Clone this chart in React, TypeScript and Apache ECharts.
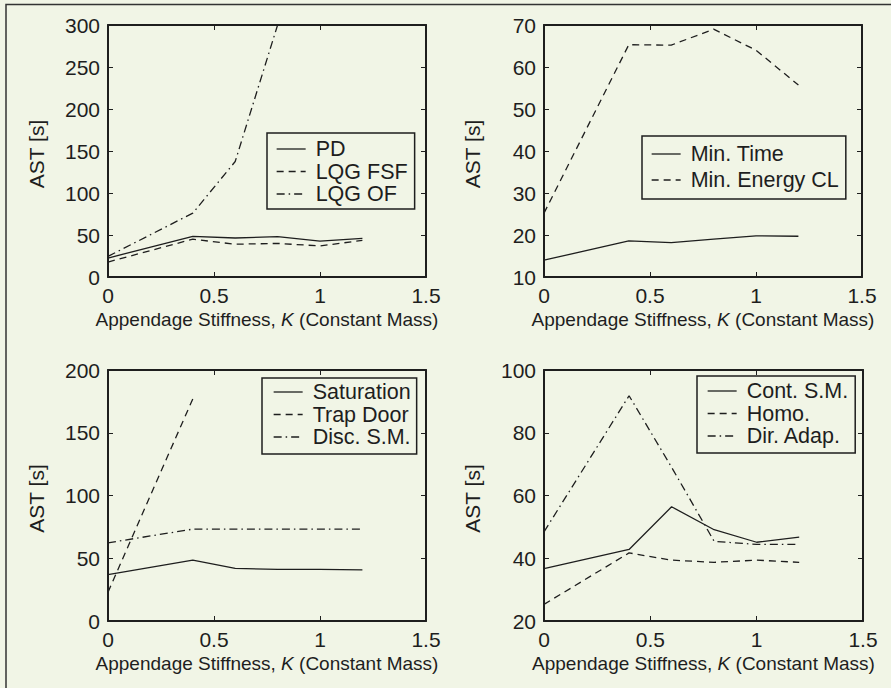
import React, { useEffect, useRef } from "react";
import * as echarts from "echarts";

const kValues = [0, 0.4, 0.6, 0.8, 1.0, 1.2];
const xTicks = [0, 0.5, 1, 1.5];

// Panel 1
const pd = [22.6, 48.4, 46.4, 48, 42.8, 46];
const lqgFsf = [17.8, 45, 39, 40, 37, 43.6];
const lqgOfK = [0, 0.4, 0.6, 0.8];
const lqgOf = [24.6, 76, 137.5, 300];
// Panel 2
const minTime = [14, 18.6, 18.2, 19, 19.8, 19.7];
const minEnergyCl = [25.2, 65.3, 65.2, 69, 64, 55.7];
// Panel 3
const saturation = [36.9, 48.5, 41.9, 41.1, 41.1, 40.8];
const trapDoorK = [0, 0.4];
const trapDoor = [23, 177];
const discSm = [62.3, 73.2, 73.2, 73.2, 73.2, 73.2];
// Panel 4
const contSm = [36.7, 42.8, 56.4, 49.1, 45.1, 46.7];
const homo = [25.3, 41.7, 39.4, 38.7, 39.4, 38.7];
const dirAdap = [48.4, 91.8, 69, 45.4, 44.4, 44.4];

const yRanges = [
  { min: 0, max: 300, interval: 50 },
  { min: 10, max: 70, interval: 10 },
  { min: 0, max: 200, interval: 50 },
  { min: 20, max: 100, interval: 20 },
];

const xAxisTitle = "Appendage Stiffness, {i|K} (Constant Mass)";
const yAxisTitle = "AST [s]";

const BG = "#f1f5e6";
const INK = "#1e1e1e";
const FONT = "'Liberation Sans', Arial, Helvetica, sans-serif";

const SOLID = "solid";
const DASH = [7, 5];
const DASHDOT = [8, 4, 1.5, 4];

const pairs = (xs: number[], ys: number[]) => xs.map((x, i) => [x, ys[i]]);

export default function App() {
  const ref = useRef<HTMLDivElement>(null);
  useEffect(() => {
    if (!ref.current) return;
    const chart = echarts.init(ref.current, null, { renderer: "svg" });

    const grids = [
      { left: 108, top: 25, width: 318, height: 252 },
      { left: 544, top: 25, width: 318, height: 252 },
      { left: 108, top: 370, width: 318, height: 251 },
      { left: 544, top: 370, width: 319, height: 251 },
    ];

    const axisLine = { show: true, onZero: false, lineStyle: { color: INK, width: 2 } };
    const axisTick = { show: true, inside: true, length: 5, lineStyle: { color: INK, width: 1 } };

    const xAxes: any[] = [];
    const yAxes: any[] = [];
    grids.forEach((_, i) => {
      xAxes.push({
        type: "value",
        gridIndex: i,
        position: "bottom",
        min: xTicks[0],
        max: xTicks[xTicks.length - 1],
        interval: 0.5,
        axisLine,
        axisTick,
        splitLine: { show: false },
        axisLabel: { show: true, color: INK, fontSize: 21, fontFamily: FONT, margin: 8 },
        name: xAxisTitle,
        nameLocation: "middle",
        nameGap: 33,
        nameTextStyle: {
          color: INK,
          fontSize: 19,
          fontFamily: FONT,
          rich: {
            i: { fontStyle: "italic", fontSize: 19, fontFamily: FONT, color: INK },
          },
        },
      });
      xAxes.push({
        type: "value",
        gridIndex: i,
        position: "top",
        min: xTicks[0],
        max: xTicks[xTicks.length - 1],
        interval: 0.5,
        axisLine,
        axisTick,
        splitLine: { show: false },
        axisLabel: { show: false },
      });
      yAxes.push({
        type: "value",
        gridIndex: i,
        position: "left",
        ...yRanges[i],
        axisLine,
        axisTick,
        splitLine: { show: false },
        axisLabel: { show: true, color: INK, fontSize: 21, fontFamily: FONT, margin: 8 },
      });
      yAxes.push({
        type: "value",
        gridIndex: i,
        position: "right",
        ...yRanges[i],
        axisLine,
        axisTick,
        splitLine: { show: false },
        axisLabel: { show: false },
      });
    });

    const line = (name: string, gi: number, data: number[][], type: any) => ({
      name,
      type: "line",
      xAxisIndex: gi * 2,
      yAxisIndex: gi * 2,
      data,
      symbol: "none",
      showSymbol: false,
      clip: true,
      lineStyle: { color: INK, width: 1.3, type },
      itemStyle: { color: INK },
      emphasis: { disabled: true },
    });

    const series = [
      line("PD", 0, pairs(kValues, pd), SOLID),
      line("LQG FSF", 0, pairs(kValues, lqgFsf), DASH),
      line("LQG OF", 0, pairs(lqgOfK, lqgOf), DASHDOT),
      line("Min. Time", 1, pairs(kValues, minTime), SOLID),
      line("Min. Energy CL", 1, pairs(kValues, minEnergyCl), DASH),
      line("Saturation", 2, pairs(kValues, saturation), SOLID),
      line("Trap Door", 2, pairs(trapDoorK, trapDoor), DASH),
      line("Disc. S.M.", 2, pairs(kValues, discSm), DASHDOT),
      line("Cont. S.M.", 3, pairs(kValues, contSm), SOLID),
      line("Homo.", 3, pairs(kValues, homo), DASH),
      line("Dir. Adap.", 3, pairs(kValues, dirAdap), DASHDOT),
    ];

    const legend = (data: string[], left: number, top: number, gap: number, padding: number[]) => ({
      show: true,
      data,
      orient: "vertical",
      left,
      top,
      itemGap: gap,
      itemWidth: 29,
      itemHeight: 14,
      padding,
      borderColor: INK,
      borderWidth: 1.5,
      borderRadius: 0,
      backgroundColor: BG,
      selectedMode: false,
      itemStyle: { color: "transparent", borderWidth: 0, opacity: 0 },
      lineStyle: { width: 1.3 },
      textStyle: {
        color: INK,
        fontSize: 21.5,
        fontFamily: FONT,
        lineHeight: 21,
        padding: [0, 0, 0, 5],
      },
    });

    const yTitles = grids.map((g) => ({
      type: "text",
      silent: true,
      x: g.left - 72,
      y: g.top + g.height / 2 + 3,
      rotation: Math.PI / 2,
      style: {
        text: yAxisTitle,
        fontSize: 21,
        fontFamily: FONT,
        fill: INK,
        textAlign: "center",
        textVerticalAlign: "middle",
      },
    }));

    chart.setOption({
      animation: false,
      backgroundColor: BG,
      grid: grids.map((g) => ({ ...g, containLabel: false, show: false })),
      xAxis: xAxes,
      yAxis: yAxes,
      series,
      legend: [
        legend(["PD", "LQG FSF", "LQG OF"], 267, 133, 0.5, [5, 7, 4, 9]),
        legend(["Min. Time", "Min. Energy CL"], 642, 136, 4, [7, 7, 8, 9]),
        legend(["Saturation", "Trap Door", "Disc. S.M."], 262, 378, 0.5, [3, 6, 6, 11]),
        legend(["Cont. S.M.", "Homo.", "Dir. Adap."], 697, 376, 0.5, [4, 7, 6, 10]),
      ],
      graphic: [
        {
          type: "polyline",
          silent: true,
          shape: { points: [[6, 700], [6, 4.5], [900, 4.5]] },
          style: { stroke: "#333", lineWidth: 1.5, fill: null },
        },
        ...yTitles,
      ],
    });

    return () => chart.dispose();
  }, []);

  return (
    <div
      ref={ref}
      style={{ position: "absolute", left: 0, top: 0, width: 891, height: 688, background: BG }}
    />
  );
}
